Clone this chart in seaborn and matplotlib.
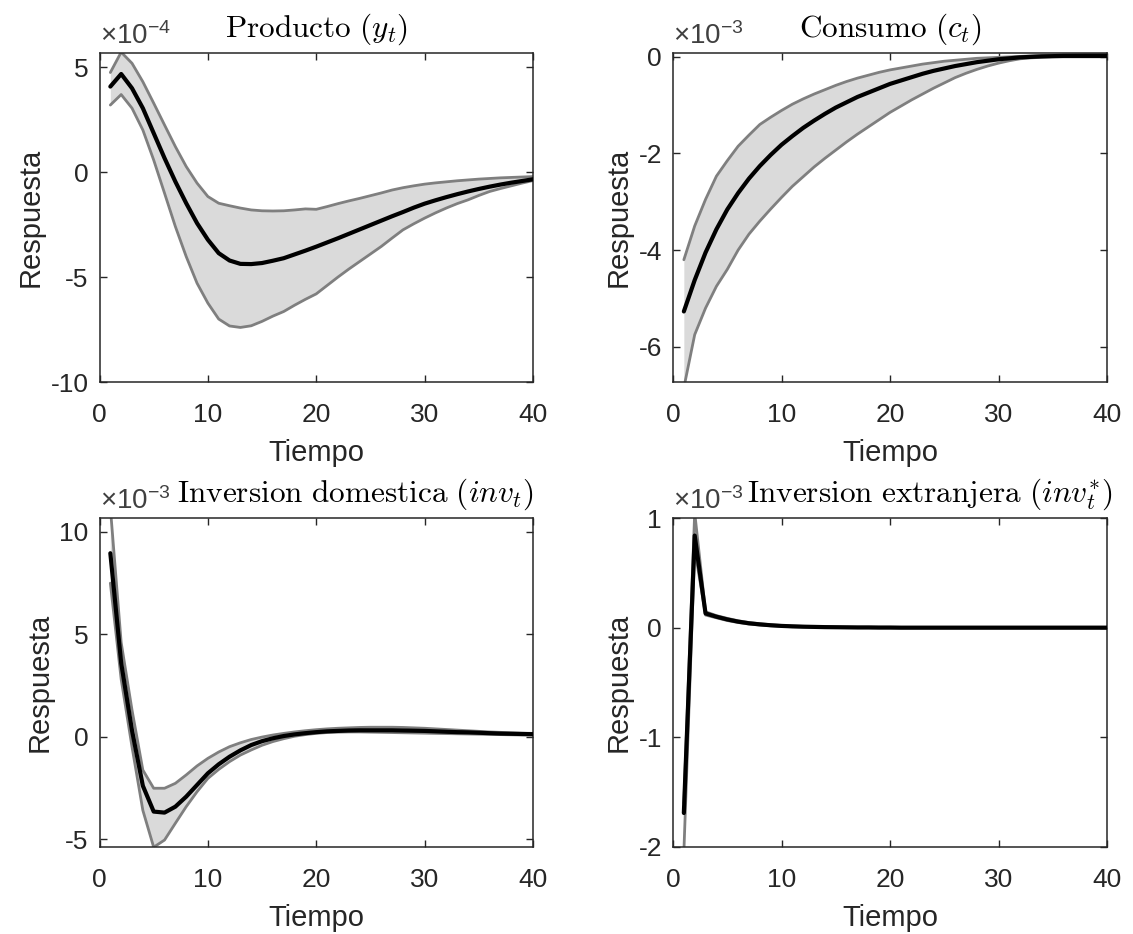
import matplotlib
matplotlib.use("Agg")
import matplotlib.pyplot as plt
import seaborn as sns

sns.set_style("ticks")
plt.rcParams['font.family'] = ['Liberation Sans', 'DejaVu Sans']
plt.rcParams['axes.unicode_minus'] = False
plt.rcParams['mathtext.rm'] = 'Liberation Sans'
plt.rcParams['mathtext.it'] = 'Liberation Sans:italic'

periods = list(range(1, 41))

# Producto (y_t), x1e-4
prod_mid = [4.08, 4.68, 4.0, 3.05, 1.86, 0.67, -0.45, -1.48, -2.43, -3.22,
            -3.86, -4.21, -4.37, -4.38, -4.33, -4.22, -4.10, -3.92, -3.74, -3.55,
            -3.35, -3.15, -2.94, -2.73, -2.52, -2.31, -2.10, -1.90, -1.69, -1.50,
            -1.34, -1.19, -1.05, -0.92, -0.80, -0.69, -0.59, -0.50, -0.42, -0.34]
prod_hi = [4.75, 5.72, 5.19, 4.31, 3.29, 2.25, 1.22, 0.27, -0.52, -1.16,
           -1.48, -1.60, -1.71, -1.80, -1.84, -1.85, -1.84, -1.80, -1.75, -1.77,
           -1.64, -1.50, -1.37, -1.25, -1.12, -0.99, -0.85, -0.74, -0.65, -0.57,
           -0.51, -0.46, -0.41, -0.37, -0.33, -0.30, -0.27, -0.25, -0.23, -0.21]
prod_lo = [3.2, 3.7, 3.05, 2.01, 0.58, -1.0, -2.59, -4.02, -5.29, -6.24,
           -7.0, -7.33, -7.4, -7.32, -7.11, -6.86, -6.64, -6.34, -6.06, -5.8,
           -5.4, -5.0, -4.62, -4.26, -3.9, -3.54, -3.14, -2.75, -2.46, -2.19,
           -1.94, -1.71, -1.5, -1.32, -1.11, -0.92, -0.78, -0.65, -0.52, -0.4]

# Consumo (c_t), x1e-3
cons_mid = [-5.27, -4.62, -4.05, -3.57, -3.16, -2.82, -2.52, -2.26, -2.03, -1.82,
            -1.64, -1.47, -1.32, -1.18, -1.05, -0.94, -0.83, -0.74, -0.65, -0.56,
            -0.49, -0.42, -0.35, -0.29, -0.24, -0.19, -0.15, -0.11, -0.08, -0.05,
            -0.03, -0.01, 0.0, 0.01, 0.015, 0.02, 0.02, 0.02, 0.02, 0.02]
cons_hi = [-4.2, -3.5, -2.95, -2.47, -2.15, -1.85, -1.62, -1.40, -1.25, -1.11,
           -0.98, -0.87, -0.77, -0.68, -0.59, -0.51, -0.44, -0.38, -0.32, -0.27,
           -0.23, -0.19, -0.15, -0.12, -0.09, -0.07, -0.05, -0.03, -0.02, -0.01,
           0.0, 0.01, 0.02, 0.03, 0.035, 0.04, 0.045, 0.05, 0.05, 0.055]
cons_lo = [-6.85, -5.75, -5.2, -4.75, -4.4, -4.0, -3.67, -3.40, -3.15, -2.91,
           -2.68, -2.48, -2.28, -2.10, -1.93, -1.76, -1.60, -1.45, -1.30, -1.15,
           -1.02, -0.89, -0.77, -0.65, -0.54, -0.43, -0.34, -0.26, -0.19, -0.13,
           -0.08, -0.04, -0.02, -0.01, 0.0, 0.0, 0.0, 0.0, 0.0, 0.0]

# Inversion domestica (inv_t), x1e-3
invd_mid = [8.96, 3.6, 0.3, -2.4, -3.66, -3.71, -3.42, -2.93, -2.36, -1.79,
            -1.35, -0.98, -0.67, -0.41, -0.22, -0.08, 0.03, 0.11, 0.17, 0.22,
            0.26, 0.28, 0.30, 0.31, 0.31, 0.31, 0.31, 0.30, 0.29, 0.28,
            0.26, 0.24, 0.22, 0.21, 0.19, 0.17, 0.15, 0.14, 0.13, 0.12]
invd_hi = [11.2, 4.6, 1.3, -1.63, -2.52, -2.52, -2.28, -1.87, -1.43, -1.06,
           -0.75, -0.49, -0.30, -0.14, -0.02, 0.08, 0.16, 0.23, 0.29, 0.34,
           0.38, 0.41, 0.43, 0.45, 0.46, 0.46, 0.46, 0.45, 0.43, 0.41,
           0.38, 0.35, 0.32, 0.29, 0.26, 0.23, 0.21, 0.19, 0.17, 0.16]
invd_lo = [7.5, 2.8, -0.5, -3.6, -5.4, -5.05, -4.23, -3.42, -2.69, -2.04,
           -1.60, -1.22, -0.90, -0.65, -0.42, -0.24, -0.10, 0.02, 0.10, 0.16,
           0.20, 0.22, 0.23, 0.23, 0.22, 0.21, 0.20, 0.19, 0.18, 0.17,
           0.16, 0.15, 0.14, 0.13, 0.12, 0.11, 0.10, 0.09, 0.08, 0.08]

# Inversion extranjera (inv*_t), x1e-3
inve_mid = [-1.69, 0.84, 0.13, 0.10, 0.075, 0.055, 0.04, 0.03, 0.022, 0.016,
            0.012, 0.009, 0.007, 0.005, 0.004, 0.003, 0.002, 0.002, 0.001, 0.001,
            0.0, 0.0, 0.0, 0.0, 0.0, 0.0, 0.0, 0.0, 0.0, 0.0,
            0.0, 0.0, 0.0, 0.0, 0.0, 0.0, 0.0, 0.0, 0.0, 0.0]
inve_hi = [-1.6, 1.05, 0.145, 0.11, 0.085, 0.063, 0.047, 0.036, 0.027, 0.02,
           0.016, 0.012, 0.01, 0.008, 0.007, 0.006, 0.005, 0.005, 0.004, 0.004,
           0.003, 0.003, 0.003, 0.003, 0.003, 0.003, 0.003, 0.003, 0.003, 0.003,
           0.003, 0.003, 0.003, 0.003, 0.003, 0.003, 0.003, 0.003, 0.003, 0.003]
inve_lo = [-2.05, 0.72, 0.115, 0.09, 0.065, 0.047, 0.033, 0.024, 0.017, 0.012,
           0.008, 0.006, 0.004, 0.002, 0.001, 0.0, -0.001, -0.001, -0.002, -0.002,
           -0.003, -0.003, -0.003, -0.003, -0.003, -0.003, -0.003, -0.003, -0.003, -0.003,
           -0.003, -0.003, -0.003, -0.003, -0.003, -0.003, -0.003, -0.003, -0.003, -0.003]

titles = [r'$\mathrm{Producto}\ (y_t)$',
          r'$\mathrm{Consumo}\ (c_t)$',
          r'$\mathrm{Inversion\ domestica}\ (inv_t)$',
          r'$\mathrm{Inversion\ extranjera}\ (inv_t^{*})$']
exponents = [r'$\times10^{-4}$', r'$\times10^{-3}$', r'$\times10^{-3}$', r'$\times10^{-3}$']
ylims = [(-10, 5.68), (-6.73, 0.08), (-5.39, 10.68), (-2, 1)]
yticks = [[-10, -5, 0, 5], [-6, -4, -2, 0], [-5, 0, 5, 10], [-2, -1, 0, 1]]
xticks = [0, 10, 20, 30, 40]

panels = [(prod_mid, prod_lo, prod_hi), (cons_mid, cons_lo, cons_hi),
          (invd_mid, invd_lo, invd_hi), (inve_mid, inve_lo, inve_hi)]

W, H = 1133, 934
boxes = [(99.5, 53, 533, 382), (673, 53, 1107, 382),
         (99.5, 518, 533, 847), (673, 518, 1107, 847)]
title_pos = [(0.5, 'center'), (0.5, 'center'), (0.178, 'left'), (0.17, 'left')]

fig = plt.figure(figsize=(W / 100, H / 100), dpi=100)
dark = '#262626'
for i, (mid, lo, hi) in enumerate(panels):
    x0, y0, x1, y1 = boxes[i]
    ax = fig.add_axes([x0 / W, 1 - y1 / H, (x1 - x0) / W, (y1 - y0) / H])
    ax.fill_between(periods, lo, hi, color='#dadada', lw=0, zorder=1)
    sns.lineplot(x=periods, y=lo, ax=ax, color='#7f7f7f', lw=2, zorder=2)
    sns.lineplot(x=periods, y=hi, ax=ax, color='#7f7f7f', lw=2, zorder=2)
    sns.lineplot(x=periods, y=mid, ax=ax, color='black', lw=3, zorder=3)
    ax.set_xlim(0, 40)
    ax.set_ylim(*ylims[i])
    ax.set_xticks(xticks)
    ax.set_yticks(yticks[i])
    ax.tick_params(direction='in', top=True, right=True, length=5, width=1,
                   labelsize=19, colors=dark)
    ax.tick_params(axis='x', pad=15)
    ax.tick_params(axis='y', pad=8)
    for s in ax.spines.values():
        s.set_visible(True)
        s.set_color(dark)
        s.set_linewidth(1.1)
    ax.set_xlabel('Tiempo', fontsize=21, color=dark, labelpad=9)
    ax.set_ylabel('Respuesta', fontsize=21, color=dark, labelpad=4)
    tx, ha = title_pos[i]
    ax.text(tx, 1.049, titles[i], transform=ax.transAxes, ha=ha, va='baseline',
            fontsize=22.5, math_fontfamily='cm', color='black')
    ax.text(0.0, 1.027, exponents[i], transform=ax.transAxes, ha='left', va='baseline',
            fontsize=20, math_fontfamily='custom', color='#404040')

fig.savefig('out.png', dpi=100, facecolor='white')
